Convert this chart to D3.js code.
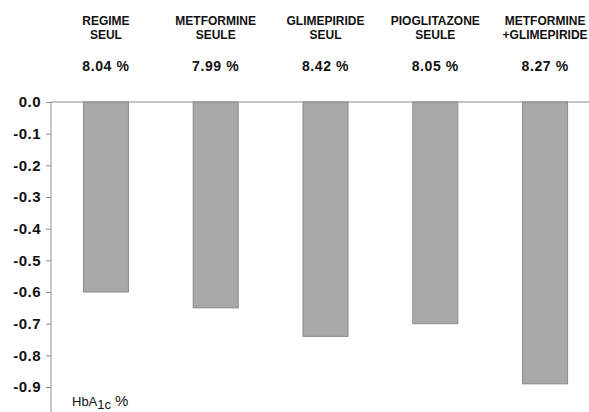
<!DOCTYPE html>
<html>
<head>
<meta charset="utf-8">
<script src="https://cdn.jsdelivr.net/npm/d3@7/dist/d3.min.js"></script>
<style>
  html, body { margin: 0; padding: 0; background: #fff; }
  svg { display: block; font-family: "Liberation Sans", Arial, Helvetica, sans-serif; }
</style>
</head>
<body>
<svg id="chart" width="589" height="412"></svg>
<script>
// Treatment groups (two-line headers), baseline HbA1c and mean change in HbA1c
const groupLine1 = ["REGIME", "METFORMINE", "GLIMEPIRIDE", "PIOGLITAZONE", "METFORMINE"];
const groupLine2 = ["SEUL", "SEULE", "SEUL", "SEULE", "+GLIMEPIRIDE"];
const baselineLabels = ["8.04 %", "7.99 %", "8.42 %", "8.05 %", "8.27 %"];
const hba1cChange = [-0.60, -0.65, -0.74, -0.70, -0.89];
const yTicks = [0, -0.1, -0.2, -0.3, -0.4, -0.5, -0.6, -0.7, -0.8, -0.9];

const svg = d3.select("#chart");
const axisX = 51, zeroY = 102;

const x = d3.scaleBand()
  .domain(d3.range(groupLine1.length))
  .range([axisX, 600])
  .paddingInner(0.59)
  .paddingOuter(0.295);

const y = d3.scaleLinear()
  .domain([0, -1])
  .range([zeroY, 418.7]);

// Bars hanging down from zero
svg.append("g").selectAll("rect")
  .data(hba1cChange)
  .join("rect")
  .attr("x", (d, i) => x(i))
  .attr("y", y(0))
  .attr("width", x.bandwidth())
  .attr("height", d => y(d) - y(0))
  .attr("fill", "#a8a8a8")
  .attr("stroke", "#8a8a8a")
  .attr("stroke-width", 1);

// Y axis with ticks on the left
const yAxis = d3.axisLeft(y)
  .tickValues(yTicks)
  .tickSize(5)
  .tickPadding(5);

const gy = svg.append("g")
  .attr("transform", `translate(${axisX},0)`)
  .call(yAxis);
gy.attr("font-size", null);
gy.select(".domain").attr("stroke", "#8c8c8c").attr("d", `M-0,${y(0)}V412`);
gy.selectAll(".tick line").attr("stroke", "#8c8c8c");
gy.selectAll(".tick text")
  .attr("fill", "#111")
  .attr("font-size", 15)
  .attr("font-weight", "bold")
  .style("letter-spacing", "0.5px")
  .text(d => d3.format(".1f")(d).replace("\u2212", "-").replace(/^-0\.0$/, "0.0"));

// Zero line across the top of the bars
svg.append("line")
  .attr("x1", axisX).attr("x2", 589)
  .attr("y1", y(0)).attr("y2", y(0))
  .attr("stroke", "#8c8c8c");

// Group headers
const header = svg.append("g").attr("fill", "#111").attr("text-anchor", "middle");
header.selectAll("text.l1")
  .data(groupLine1)
  .join("text")
  .attr("class", "l1")
  .attr("x", (d, i) => x(i) + x.bandwidth() / 2)
  .attr("y", 25)
  .style("font-size", "12px")
  .style("font-weight", "bold")
  .text(d => d);
header.selectAll("text.l2")
  .data(groupLine2)
  .join("text")
  .attr("class", "l2")
  .attr("x", (d, i) => x(i) + x.bandwidth() / 2)
  .attr("y", 39)
  .style("font-size", "12px")
  .style("font-weight", "bold")
  .text(d => d);

// Baseline HbA1c per group
header.selectAll("text.base")
  .data(baselineLabels)
  .join("text")
  .attr("class", "base")
  .attr("x", (d, i) => x(i) + x.bandwidth() / 2)
  .attr("y", 71)
  .style("font-size", "14px")
  .style("font-weight", "bold")
  .style("letter-spacing", "0.6px")
  .text(d => d);

// Unit label
const unit = svg.append("text")
  .attr("x", 72)
  .attr("y", 406)
  .attr("fill", "#111")
  .style("font-size", "13px");
unit.append("tspan").text("HbA");
unit.append("tspan").attr("dy", 3).style("font-size", "13px").text("1c");
unit.append("tspan").attr("dy", -3).attr("x", 115).style("font-size", "15px").text("%");
</script>
</body>
</html>
